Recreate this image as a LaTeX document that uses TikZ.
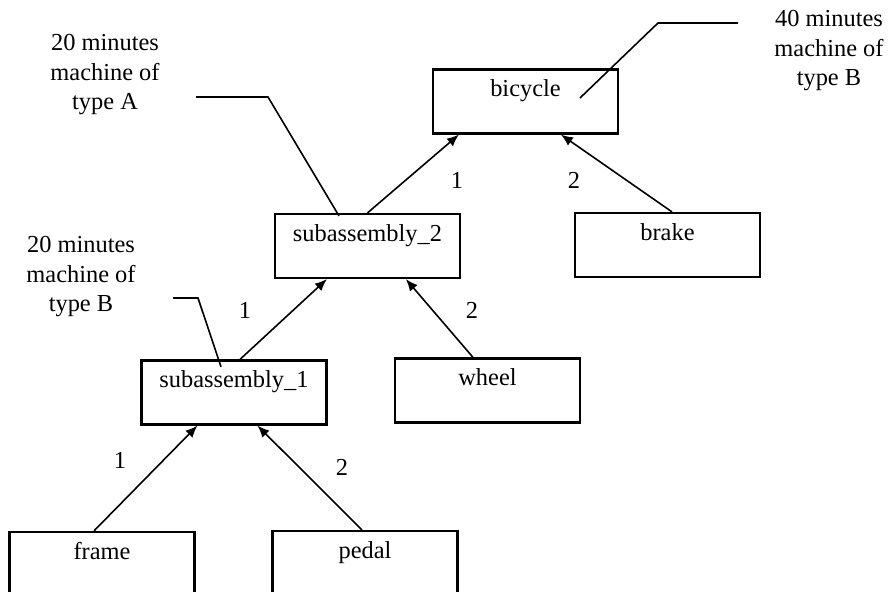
\documentclass[tikz,border=0pt]{standalone}
\usepackage{fontspec}
\setmainfont{Liberation Serif}
\usetikzlibrary{arrows.meta,calc}
\begin{document}
\begin{tikzpicture}[x=0.5pt,y=-0.5pt,
  box/.style={draw, line width=1.1pt, rectangle, inner sep=0pt, minimum width=92.5pt, minimum height=32pt, text height=13.75pt, text depth=18.25pt, font=\fontsize{12.2}{15}\selectfont},
  conn/.style={line width=0.8pt, -{Latex[length=6pt,width=5pt]}},
  callout/.style={line width=0.8pt},
  lbl/.style={font=\fontsize{12.2}{15}\selectfont, inner sep=0pt},
  note/.style={font=\fontsize{12.2}{14.9}\selectfont, align=center, inner sep=0pt, anchor=base}
]
\useasboundingbox (0,0) rectangle (891,592);
\clip (0,0) rectangle (891,592);

\node[box] (bicycle) at (525.5,101.5) {bicycle};
\node[box] (brake) at (667.5,245) {brake};
\node[box] (sub2) at (367.5,246) {subassembly\_2};
\node[box] (wheel) at (487.5,390.5) {wheel};
\node[box] (sub1) at (234,392.5) {subassembly\_1};
\node[box] (frame) at (102,564) {frame};
\node[box] (pedal) at (365,563) {pedal};

\draw[conn] (sub2.north) -- ($(bicycle.south west)+(27,0)$);
\draw[conn] ($(brake.north)+(4.5,0)$) -- ($(bicycle.south west)+(129,0)$);
\draw[conn] ($(sub1.north)+(6,0)$) -- ($(sub2.south west)+(53,0)$);
\draw[conn] ($(wheel.north)+(-14.5,0)$) -- ($(sub2.south west)+(132,0)$);
\draw[conn] ($(frame.north)+(-8,0)$) -- ($(sub1.south west)+(57,0)$);
\draw[conn] ($(pedal.north)+(-3,0)$) -- ($(sub1.south west)+(117,0)$);

\node[lbl] (l1) at (457,180) {1};
\node[lbl] (l2) at (574,180) {2};
\node[lbl] (l3) at (245,310) {1};
\node[lbl] (l4) at (472,310) {2};
\node[lbl] (l5) at (120,460) {1};
\node[lbl] (l6) at (342,467) {2};

\node[note] (nb) at (829,86) {40 minutes\\machine of\\type B};
\node[note] (n2) at (105,110) {20 minutes\\machine of\\type A};
\node[note] (n1) at (81,312) {20 minutes\\machine of\\type B};

\coordinate (cb1) at ($(bicycle.center)+(54.5,-3.5)$);
\coordinate (cb2) at (658,23);
\coordinate (cb3) at (738,23);
\draw[callout] (cb1) -- (cb2) -- (cb3);

\coordinate (cs2a) at ($(sub2.north)+(-28.5,3)$);
\coordinate (cs2b) at (268,97);
\coordinate (cs2c) at (196,97);
\draw[callout] (cs2a) -- (cs2b) -- (cs2c);

\coordinate (cs1a) at ($(sub1.north)+(-13,7.5)$);
\coordinate (cs1b) at (198,298);
\coordinate (cs1c) at (173,298);
\draw[callout] (cs1a) -- (cs1b) -- (cs1c);
\end{tikzpicture}
\end{document}
